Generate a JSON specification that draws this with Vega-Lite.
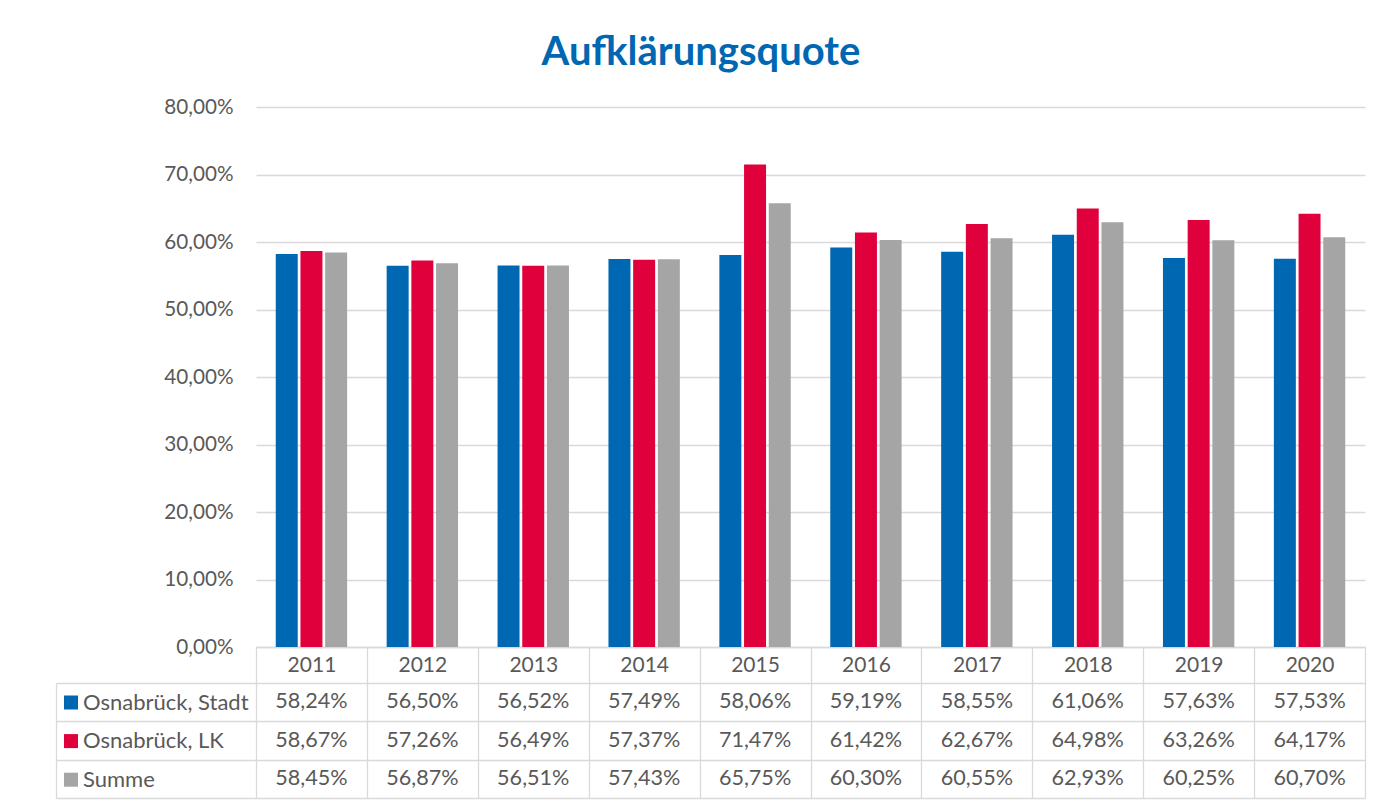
{
  "$schema": "https://vega.github.io/schema/vega-lite/v6.json",
  "padding": {"left": 55, "top": 32, "right": 17, "bottom": 5},
  "background": "white",
  "title": {"text": "Aufklärungsquote", "font": "Lato", "fontSize": 40, "fontWeight": "bold", "color": "#0067b2", "anchor": "middle", "offset": 23.5, "dx": -9.5},
  "config": {
    "locale": {"number": {"decimal": ",", "thousands": ".", "grouping": [3], "currency": ["", " €"]}},
    "view": {"stroke": null},
    "font": "Lato"
  },
  "data": {"values": [
    {"year": "2011", "series": "Osnabrück, Stadt", "value": 0.5824},
    {"year": "2011", "series": "Osnabrück, LK", "value": 0.5867},
    {"year": "2011", "series": "Summe", "value": 0.5845},
    {"year": "2012", "series": "Osnabrück, Stadt", "value": 0.5650},
    {"year": "2012", "series": "Osnabrück, LK", "value": 0.5726},
    {"year": "2012", "series": "Summe", "value": 0.5687},
    {"year": "2013", "series": "Osnabrück, Stadt", "value": 0.5652},
    {"year": "2013", "series": "Osnabrück, LK", "value": 0.5649},
    {"year": "2013", "series": "Summe", "value": 0.5651},
    {"year": "2014", "series": "Osnabrück, Stadt", "value": 0.5749},
    {"year": "2014", "series": "Osnabrück, LK", "value": 0.5737},
    {"year": "2014", "series": "Summe", "value": 0.5743},
    {"year": "2015", "series": "Osnabrück, Stadt", "value": 0.5806},
    {"year": "2015", "series": "Osnabrück, LK", "value": 0.7147},
    {"year": "2015", "series": "Summe", "value": 0.6575},
    {"year": "2016", "series": "Osnabrück, Stadt", "value": 0.5919},
    {"year": "2016", "series": "Osnabrück, LK", "value": 0.6142},
    {"year": "2016", "series": "Summe", "value": 0.6030},
    {"year": "2017", "series": "Osnabrück, Stadt", "value": 0.5855},
    {"year": "2017", "series": "Osnabrück, LK", "value": 0.6267},
    {"year": "2017", "series": "Summe", "value": 0.6055},
    {"year": "2018", "series": "Osnabrück, Stadt", "value": 0.6106},
    {"year": "2018", "series": "Osnabrück, LK", "value": 0.6498},
    {"year": "2018", "series": "Summe", "value": 0.6293},
    {"year": "2019", "series": "Osnabrück, Stadt", "value": 0.5763},
    {"year": "2019", "series": "Osnabrück, LK", "value": 0.6326},
    {"year": "2019", "series": "Summe", "value": 0.6025},
    {"year": "2020", "series": "Osnabrück, Stadt", "value": 0.5753},
    {"year": "2020", "series": "Osnabrück, LK", "value": 0.6417},
    {"year": "2020", "series": "Summe", "value": 0.6070}
  ]},
  "bounds": "flush",
  "spacing": 36,
  "resolve": {"scale": {"x": "shared"}},
  "vconcat": [
    {
      "width": 1109,
      "height": 540,
      "mark": {"type": "bar"},
      "encoding": {
        "x": {"field": "year", "type": "ordinal", "scale": {"paddingInner": 0, "paddingOuter": 0},
          "axis": {"title": null, "orient": "bottom", "tickBand": "extent", "ticks": true, "tickSize": 36, "tickColor": "#d9d9d9", "tickWidth": 1.3, "domainColor": "#d9d9d9", "domainWidth": 1.3, "labelPadding": -18, "labelBaseline": "middle", "labelAngle": 0, "labelFontSize": 21, "labelFont": "Lato", "labelColor": "#595959"}},
        "xOffset": {"field": "series", "type": "nominal", "scale": {"domain": ["Osnabrück, Stadt", "Osnabrück, LK", "Summe"], "paddingInner": 0.11, "paddingOuter": 0.8}},
        "y": {"field": "value", "type": "quantitative", "scale": {"domain": [0, 0.8], "nice": false},
          "axis": {"title": null, "values": [0, 0.1, 0.2, 0.3, 0.4, 0.5, 0.6, 0.7, 0.8], "format": ".2%", "grid": true, "gridColor": "#d9d9d9", "gridWidth": 1.3, "domain": false, "ticks": false, "labelPadding": 23, "labelFontSize": 20.7, "labelFont": "Lato", "labelColor": "#595959"}},
        "color": {"field": "series", "type": "nominal",
          "scale": {"domain": ["Osnabrück, Stadt", "Osnabrück, LK", "Summe"], "range": ["#0067b2", "#e0003c", "#a5a5a5"]},
          "legend": {"title": null, "orient": "none", "legendX": -196, "legendY": 584.5, "symbolType": "square", "symbolSize": 196, "symbolStrokeWidth": 0, "symbolOpacity": 1, "labelFontSize": 22, "labelFont": "Lato", "labelColor": "#595959", "labelOffset": 1, "rowPadding": 16.6, "padding": 0, "labelLimit": 300}}
      }
    },
    {
      "width": 1109,
      "height": 115,
      "mark": {"type": "text", "font": "Lato", "fontSize": 21.6, "color": "#595959"},
      "encoding": {
        "x": {"field": "year", "type": "ordinal", "scale": {"paddingInner": 0, "paddingOuter": 0},
          "axis": {"title": null, "labels": false, "ticks": false, "domain": false, "grid": true, "tickBand": "extent", "gridColor": "#d9d9d9", "gridWidth": 1.3}},
        "y": {"field": "series", "type": "nominal", "scale": {"domain": ["Osnabrück, Stadt", "Osnabrück, LK", "Summe"], "paddingInner": 0, "paddingOuter": 0},
          "axis": {"title": null, "labels": false, "offset": 200, "domain": true, "domainColor": "#d9d9d9", "domainWidth": 1.3, "ticks": true, "tickSize": -200, "tickColor": "#d9d9d9", "tickWidth": 1.3, "tickBand": "extent", "grid": true, "gridColor": "#d9d9d9", "gridWidth": 1.3}},
        "text": {"field": "value", "type": "quantitative", "format": ".2%"}
      }
    }
  ]
}
